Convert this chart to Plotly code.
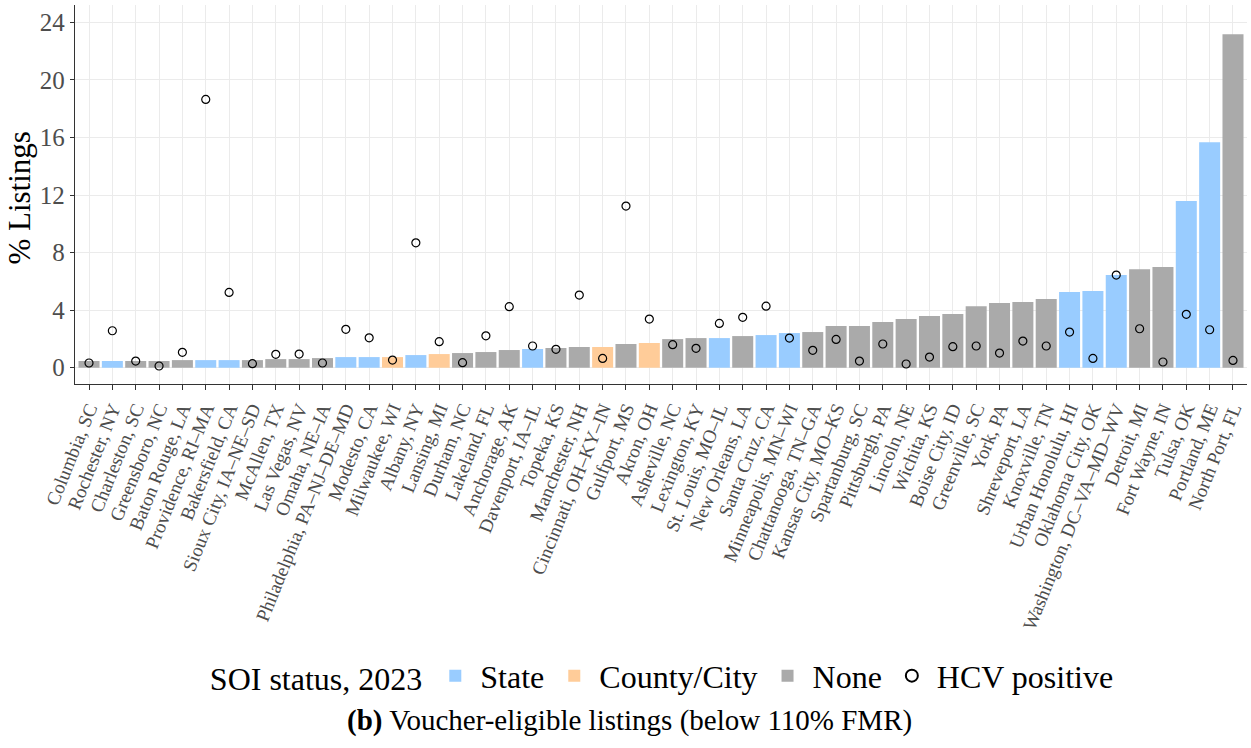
import plotly.graph_objects as go

cities = [
    "Columbia, SC", "Rochester, NY", "Charleston, SC", "Greensboro, NC", "Baton Rouge, LA",
    "Providence, RI–MA", "Bakersfield, CA", "Sioux City, IA–NE–SD", "McAllen, TX", "Las Vegas, NV",
    "Omaha, NE–IA", "Philadelphia, PA–NJ–DE–MD", "Modesto, CA", "Milwaukee, WI", "Albany, NY",
    "Lansing, MI", "Durham, NC", "Lakeland, FL", "Anchorage, AK", "Davenport, IA–IL",
    "Topeka, KS", "Manchester, NH", "Cincinnati, OH–KY–IN", "Gulfport, MS", "Akron, OH",
    "Asheville, NC", "Lexington, KY", "St. Louis, MO–IL", "New Orleans, LA", "Santa Cruz, CA",
    "Minneapolis, MN–WI", "Chattanooga, TN–GA", "Kansas City, MO–KS", "Spartanburg, SC", "Pittsburgh, PA",
    "Lincoln, NE", "Wichita, KS", "Boise City, ID", "Greenville, SC", "York, PA",
    "Shreveport, LA", "Knoxville, TN", "Urban Honolulu, HI", "Oklahoma City, OK", "Washington, DC–VA–MD–WV",
    "Detroit, MI", "Fort Wayne, IN", "Tulsa, OK", "Portland, ME", "North Port, FL",
]

soi_status = [
    "None", "State", "None", "None", "None",
    "State", "State", "None", "None", "None",
    "None", "State", "State", "County/City", "State",
    "County/City", "None", "None", "None", "State",
    "None", "None", "County/City", "None", "County/City",
    "None", "None", "State", "None", "State",
    "State", "None", "None", "None", "None",
    "None", "None", "None", "None", "None",
    "None", "None", "State", "State", "State",
    "None", "None", "State", "State", "None",
]

pct_listings = [
    0.47, 0.47, 0.47, 0.47, 0.53,
    0.53, 0.53, 0.53, 0.60, 0.60,
    0.67, 0.74, 0.74, 0.74, 0.88,
    0.95, 1.02, 1.09, 1.23, 1.30,
    1.37, 1.44, 1.44, 1.65, 1.72,
    1.99, 2.06, 2.06, 2.20, 2.27,
    2.41, 2.48, 2.90, 2.90, 3.17,
    3.38, 3.59, 3.73, 4.28, 4.49,
    4.56, 4.77, 5.26, 5.33, 6.44,
    6.85, 6.99, 11.58, 15.67, 23.17,
]

hcv_positive = [
    0.33, 2.57, 0.46, 0.12, 1.07,
    18.64, 5.23, 0.28, 0.93, 0.95,
    0.33, 2.67, 2.08, 0.53, 8.68,
    1.81, 0.35, 2.22, 4.24, 1.51,
    1.28, 5.05, 0.65, 11.23, 3.38,
    1.60, 1.35, 3.08, 3.50, 4.28,
    2.06, 1.21, 1.97, 0.46, 1.65,
    0.26, 0.74, 1.46, 1.51, 1.02,
    1.85, 1.51, 2.48, 0.65, 6.44,
    2.71, 0.40, 3.71, 2.64, 0.51,
]

status_order = ["State", "County/City", "None"]
status_colors = {"State": "#99CCFF", "County/City": "#FFCC99", "None": "#AAAAAA"}

FONT = "Liberation Serif"

fig = go.Figure()
for st in status_order:
    xs = [c for c, s in zip(cities, soi_status) if s == st]
    ys = [v for v, s in zip(pct_listings, soi_status) if s == st]
    fig.add_trace(go.Bar(
        x=xs, y=ys, name=st, width=0.9,
        marker=dict(color=status_colors[st], line=dict(width=0)),
    ))

fig.add_trace(go.Scatter(
    x=cities, y=hcv_positive, mode="markers", name="HCV positive",
    marker=dict(symbol="circle-open", size=8, color="black", line=dict(width=1.2, color="black")),
))

fig.update_layout(
    width=1251, height=748,
    barmode="overlay",
    plot_bgcolor="white", paper_bgcolor="white",
    margin=dict(l=75, r=4, t=5, b=364),
    font=dict(family=FONT, color="black"),
    showlegend=True,
    legend=dict(
        orientation="h", x=0.502, xanchor="center", y=-0.77, yanchor="middle",
        font=dict(size=32, family=FONT, color="black"),
        title=dict(text="SOI status, 2023", font=dict(size=32, family=FONT, color="black"), side="left"),
        traceorder="normal", itemsizing="constant", itemwidth=40,
    ),
    annotations=[
        dict(
            text="<b>(b)</b> Voucher-eligible listings (below 110% FMR)",
            x=0.473, y=-0.887, xref="paper", yref="paper", xanchor="center", yanchor="middle",
            showarrow=False, font=dict(size=29, family=FONT, color="black"),
        ),
        dict(
            text="% Listings", textangle=-90,
            x=-0.0475, y=0.49, xref="paper", yref="paper", xanchor="center", yanchor="middle",
            showarrow=False, font=dict(size=31, family=FONT, color="black"),
        ),
    ],
)

fig.update_xaxes(
    type="category", categoryorder="array", categoryarray=cities,
    range=[-0.6, len(cities) - 0.4],
    tickangle=-68, tickfont=dict(size=19, family=FONT, color="#4D4D4D"),
    showgrid=True, gridcolor="#EBEBEB", gridwidth=1,
    showline=True, linecolor="#333333", linewidth=1.3,
    ticks="outside", ticklen=5, tickcolor="#333333",
    automargin=False,
)
fig.update_yaxes(
    range=[-1.13, 25.2], tickvals=[0, 4, 8, 12, 16, 20, 24],
    tickfont=dict(size=25, family=FONT, color="#4D4D4D"),
    showgrid=True, gridcolor="#EBEBEB", gridwidth=1, zeroline=False,
    showline=True, linecolor="#333333", linewidth=1.3,
    ticks="outside", ticklen=4, tickcolor="#333333",
    automargin=False,
)

fig.write_html("out.html", config={"displayModeBar": False},
               post_script="document.body.style.margin='0';")
